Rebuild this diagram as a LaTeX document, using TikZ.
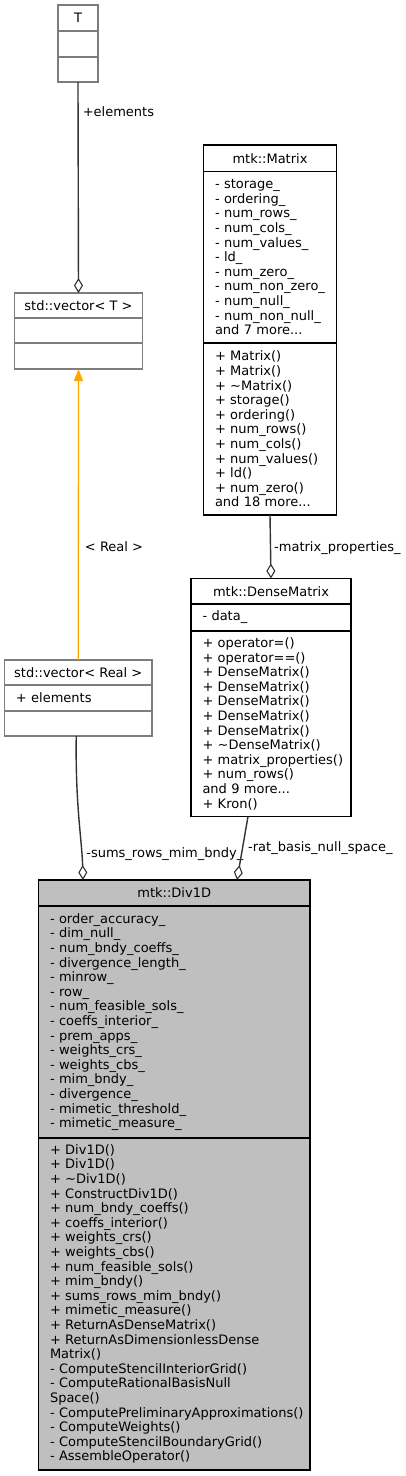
\documentclass[tikz,border=0pt]{standalone}
\usepackage{fontspec}
\setmainfont{DejaVu Sans}
\usetikzlibrary{positioning,arrows.meta}
\definecolor{clsfill}{RGB}{191,191,191}
\definecolor{clsgray}{RGB}{125,125,125}
\definecolor{edgegray}{RGB}{50,50,50}
\definecolor{tmplorange}{RGB}{255,165,0}
\newcommand\clsfontsel{\fontsize{13}{14.6}\selectfont
  \hyphenpenalty=10000\relax\exhyphenpenalty=10000\relax}
\tikzset{
  clsfont/.style={font=\clsfontsel},
  clshead/.style={draw,clsfont,line width=1.5pt,inner sep=0pt,outer sep=0pt,
    minimum height=26pt,align=center},
  clsbody/.style={draw,clsfont,line width=1.5pt,inner xsep=11.5pt,inner ysep=0pt,
    outer sep=0pt,align=left},
  undoc/.style={draw=clsgray,line width=1.4pt},
  focus/.style={fill=clsfill,draw=black,line width=1.7pt},
  aggedge/.style={draw=edgegray,line width=1.4pt,
    -{Diamond[fill=white,length=15pt,width=9pt,line width=1.1pt]}},
  tmpledge/.style={draw=tmplorange,line width=1.3pt,-{Triangle[length=12pt,width=9pt]}},
  edgelbl/.style={clsfont,inner sep=2pt},
}
\begin{document}
\begin{tikzpicture}[x=1pt,y=-1pt]
  \useasboundingbox (0,0) rectangle (405,1476);
  % template parameter
  \node[clshead,undoc,minimum width=40pt] (tT) at (78,18) {T};
  \node[clsbody,undoc,minimum width=40pt,minimum height=26pt,below=0pt of tT] (tTa) {};
  \node[clsbody,undoc,minimum width=40pt,minimum height=25pt,below=0pt of tTa] (tTb) {};
  % std::vector< T >
  \node[clshead,undoc,minimum width=128pt,minimum height=25pt] (vT) at (78.5,305.5) {std::vector< T >};
  \node[clsbody,undoc,minimum width=128pt,minimum height=25pt,below=0pt of vT] (vTa) {};
  \node[clsbody,undoc,minimum width=128pt,minimum height=26pt,below=0pt of vTa] (vTb) {};
  % std::vector< Real >
  \node[clshead,undoc,minimum width=147.5pt,minimum height=25pt] (vR) at (78.25,672.5) {std::vector< Real >};
  \node[clsbody,undoc,text width=124.5pt,minimum height=26pt,below=0pt of vR] (vRa) {+ elements};
  \node[clsbody,undoc,minimum width=147.5pt,minimum height=25pt,below=0pt of vRa] (vRb) {};
  % mtk::Matrix
  \node[clshead,minimum width=133pt,minimum height=26.5pt] (mM) at (270,158.25) {mtk::Matrix};
  \node[clsbody,text width=110pt,minimum height=171.5pt,below=0pt of mM] (mMa)
    {- storage\_\\- ordering\_\\- num\_rows\_\\- num\_cols\_\\- num\_values\_\\- ld\_\\
     - num\_zero\_\\-~num\_non\_zero\_\\- num\_null\_\\-~num\_non\_null\_\\and 7 more...};
  \node[clsbody,text width=110pt,minimum height=172pt,below=0pt of mMa] (mMm)
    {+ Matrix()\\+ Matrix()\\+ \textasciitilde Matrix()\\+ storage()\\+ ordering()\\
     + num\_rows()\\+ num\_cols()\\+ num\_values()\\+ ld()\\+ num\_zero()\\and 18 more...};
  % mtk::DenseMatrix
  \node[clshead,minimum width=160pt,minimum height=25.5pt] (dM) at (271,591.25) {mtk::DenseMatrix};
  \node[clsbody,text width=137pt,minimum height=27pt,below=0pt of dM] (dMa) {- data\_};
  \node[clsbody,text width=137pt,minimum height=185.5pt,below=0pt of dMa] (dMm)
    {+ operator=()\\+ operator==()\\+ DenseMatrix()\\+ DenseMatrix()\\+ DenseMatrix()\\
     + DenseMatrix()\\+ DenseMatrix()\\+ \textasciitilde DenseMatrix()\\+~matrix\_properties()\\
     + num\_rows()\\and 9 more...\\+ Kron()};
  % mtk::Div1D
  \node[clshead,focus,minimum width=271.5pt,minimum height=26pt] (dv) at (174.25,893) {mtk::Div1D};
  \node[clsbody,focus,text width=248.5pt,minimum height=232pt,below=0pt of dv] (dva)
    {- order\_accuracy\_\\- dim\_null\_\\- num\_bndy\_coeffs\_\\- divergence\_length\_\\
     - minrow\_\\- row\_\\- num\_feasible\_sols\_\\- coeffs\_interior\_\\- prem\_apps\_\\
     - weights\_crs\_\\- weights\_cbs\_\\- mim\_bndy\_\\- divergence\_\\
     - mimetic\_threshold\_\\- mimetic\_measure\_};
  \node[clsbody,focus,text width=248.5pt,minimum height=332pt,below=0pt of dva] (dvm)
    {+ Div1D()\\+ Div1D()\\+ \textasciitilde Div1D()\\+ ConstructDiv1D()\\
     + num\_bndy\_coeffs()\\+ coeffs\_interior()\\+ weights\_crs()\\+ weights\_cbs()\\
     + num\_feasible\_sols()\\+ mim\_bndy()\\+ sums\_rows\_mim\_bndy()\\+ mimetic\_measure()\\
     + ReturnAsDenseMatrix()\\+~ReturnAsDimensionlessDense\\Matrix()\\
     - ComputeStencilInteriorGrid()\\- ComputeRationalBasisNull\\Space()\\
     -~ComputePreliminaryApproximations()\\- ComputeWeights()\\
     - ComputeStencilBoundaryGrid()\\- AssembleOperator()};
  % relations
  \draw[aggedge] (tTb.south) -- node[edgelbl,pos=0.14,anchor=west,xshift=2pt] {+elements} (vT.north);
  \draw[tmpledge] (vR.north) -- node[edgelbl,pos=0.39,anchor=west,xshift=4pt] {< Real >} (vTb.south);
  \draw[aggedge] (mMm.south) -- node[edgelbl,pos=0.52,anchor=west,xshift=1pt] {-matrix\_properties\_} (dM.north);
  \draw[aggedge] ([xshift=-2pt]vRb.south) .. controls +(-1,70) and +(-1,-40) ..
    node[edgelbl,pos=0.78,anchor=west,xshift=2pt] {-sums\_rows\_mim\_bndy\_}
    ([xshift=44.5pt]dv.north west);
  \draw[aggedge] ([xshift=-23pt]dMm.south) --
    node[edgelbl,pos=0.5,anchor=west,xshift=3pt] {-rat\_basis\_null\_space\_}
    ([xshift=198.5pt]dv.north west);
\end{tikzpicture}
\end{document}
